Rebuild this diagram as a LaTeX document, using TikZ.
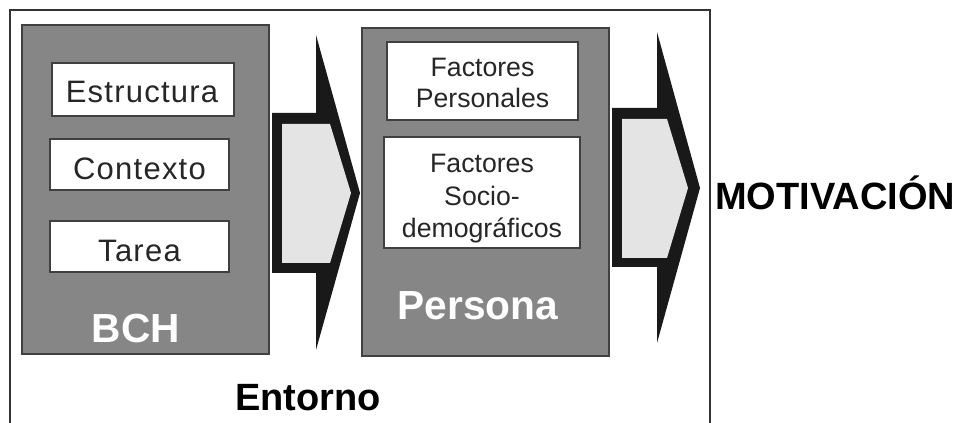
\documentclass[tikz,border=0pt]{standalone}
\usepackage{fontspec}
\setmainfont{Liberation Sans}
\newfontfamily\spacedfont[LetterSpace=4]{Liberation Sans}
\definecolor{boxgray}{HTML}{868686}
\definecolor{arrowfill}{HTML}{E4E4E4}
\definecolor{txtdark}{HTML}{262626}
\begin{document}
\begin{tikzpicture}[x=0.75pt,y=-0.75pt,
  graybox/.style={draw=black!75, line width=1.3pt, fill=boxgray},
  whitebox/.style={draw=black!75, line width=1pt, fill=white},
  itemtxt/.style={font=\fontsize{23.25}{26}\spacedfont, text=txtdark, anchor=base, inner sep=0pt},
  facttxt/.style={font=\fontsize{20}{24.4}\selectfont, text=txtdark, align=center, inner sep=0pt},
  whitelabel/.style={font=\fontsize{30.5}{32}\selectfont\bfseries, text=white, anchor=base, inner sep=0pt},
  blacklabel/.style={font=\fontsize{28.5}{30}\selectfont\bfseries, text=black, anchor=base, inner sep=0pt},
  arrowout/.style={fill=black!90, draw=none},
  arrowin/.style={fill=arrowfill, draw=none}]
\useasboundingbox (0,0) rectangle (959,423);

% outer frame (Entorno)
\draw[line width=1.3pt, black!80] (10,423) -- (10,10) -- (710,10) -- (710,423);

% BCH block
\path[graybox] (22,25) rectangle (269,354);
\path[whitebox] (52,63) rectangle (234,116);
\path[whitebox] (50,139) rectangle (229,190);
\path[whitebox] (50,221) rectangle (229,272);
\node[itemtxt] (estructura) at (142,103) {Estructura};
\node[itemtxt] (contexto) at (139.5,180) {Contexto};
\node[itemtxt] (tarea) at (139.5,262) {Tarea};
\node[whitelabel] (bch) at (136,343) {BCH};

% first block arrow
\path[arrowout] (272,113) -- (316,113) -- (316,35) -- (360,193) -- (316,350) -- (316,273) -- (272,273) -- cycle;
\path[arrowin] (282,124) -- (330,124) -- (351,193) -- (330,263) -- (282,263) -- cycle;

% Persona block
\path[graybox] (362,28) rectangle (609,356);
\path[whitebox] (387,42) rectangle (578,120);
\path[whitebox] (384,137) rectangle (580,248);
\node[facttxt, font=\fontsize{20}{23.25}\selectfont] (fp) at (482.5,83) {Factores\\Personales};
\node[facttxt] (fs) at (482,199) {Factores\\Socio-\\demográficos};
\node[whitelabel] (persona) at (478,320) {Persona};

% second block arrow
\path[arrowout] (612,108) -- (657,108) -- (657,32) -- (700,188) -- (657,343) -- (657,267) -- (612,267) -- cycle;
\path[arrowin] (622,119) -- (667,119) -- (688,188) -- (667,258) -- (622,258) -- cycle;

% labels
\node[blacklabel, anchor=base west] (motiv) at (715,210) {MOTIVACIÓN};
\node[blacklabel] (entorno) at (308,410) {Entorno};
\end{tikzpicture}
\end{document}
